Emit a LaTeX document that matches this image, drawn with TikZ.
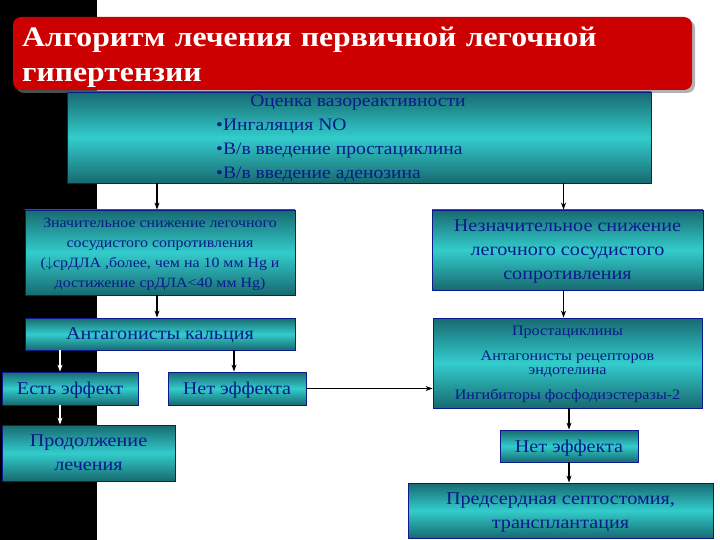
\documentclass[tikz,border=0pt]{standalone}
\usepackage{fontspec}
\setmainfont[FakeStretch=1.12]{Liberation Serif}
\usepackage{tikz}
\usetikzlibrary{arrows.meta,positioning,shadows}
\definecolor{Navy}{HTML}{0A1A8C}
\definecolor{TealDark}{HTML}{176A70}
\definecolor{TealLight}{HTML}{33CCCC}
\definecolor{Banner}{HTML}{CC0000}

\begin{document}
\begin{tikzpicture}[x=1pt,y=-1pt,
    box/.style={draw=Navy,line width=0.8pt,top color=TealDark,bottom color=TealDark,middle color=TealLight,
      text=Navy,align=center,inner sep=0pt,text depth=-4pt,font=\fontsize{18}{24}\selectfont},
    small/.style={font=\fontsize{14.2}{20}\selectfont},
    arr/.style={-{Stealth[length=7pt,width=5pt]},line width=1.6pt},
    warr/.style={arr,white}]
  \useasboundingbox (0,0) rectangle (720,540);
  \fill[white] (0,0) rectangle (720,540);
  \fill[black] (0,0) rectangle (97,540);
  % title
  \node[fill=Banner,rounded corners=8pt,drop shadow={opacity=0.6,shadow xshift=3pt,shadow yshift=-3pt},
    minimum width=679,minimum height=73,inner sep=0pt] (title) at (352.5,53.5) {};
  \node[text width=660,align=left,inner sep=0pt,text=white,anchor=north west,
    font=\fontsize{28.3}{35}\bfseries\selectfont] (titletext) at (22,27)
    {Алгоритм лечения первичной легочной\\гипертензии};
  % vasoreactivity test
  \node[box,minimum width=584,minimum height=91] (eval) at (359,137.5) {};
  \node[text=Navy,font=\fontsize{17.5}{24}\selectfont,inner sep=0pt] (evalhead) at (358,102.5) {Оценка вазореактивности};
  \node[text=Navy,font=\fontsize{17.5}{24}\selectfont,inner sep=0pt,align=left,anchor=west] (evallist) at (216,150)
    {•Ингаляция NO\\•В/в введение простациклина\\•В/в введение аденозина};
  % left branch
  \node[box,small,minimum width=270,minimum height=85] (sig) at (160,252.5)
    {Значительное снижение легочного\\сосудистого сопротивления\\($\downarrow$срДЛА ,более, чем на 10 мм Hg и\\достижение срДЛА<40 мм Hg)};
  \node[box,minimum width=270,minimum height=32] (calc) at (160,334) {Антагонисты кальция};
  \node[box,minimum width=136,minimum height=33] (yes) at (70,388.5) {Есть эффект};
  \node[box,minimum width=138,minimum height=33] (noeff) at (237,388.5) {Нет эффекта};
  \node[box,minimum width=173,minimum height=56] (cont) at (88.5,453) {Продолжение\\лечения};
  % right branch
  \node[box,minimum width=271,minimum height=80] (insig) at (567.5,250)
    {Незначительное снижение\\легочного сосудистого\\сопротивления};
  \node[box,minimum width=269,minimum height=90,text depth=1pt,font=\fontsize{14.4}{14}\selectfont] (drugs) at (567.5,363)
    {Простациклины\\[11pt]Антагонисты рецепторов\\эндотелина\\[11pt]Ингибиторы фосфодиэстеразы-2};
  \node[box,minimum width=138,minimum height=32] (noeff2) at (569,446) {Нет эффекта};
  \node[box,minimum width=305,minimum height=55] (surg) at (560.5,510.5) {Предсердная септостомия,\\трансплантация};
  % arrows
  \draw[arr] ([xshift=-3]sig.north |- eval.south) -- ([xshift=-3]sig.north);
  \draw[arr] ([xshift=-4]insig.north |- eval.south) -- ([xshift=-4]insig.north);
  \draw[arr] ([xshift=-3]sig.south) -- ([xshift=-3]calc.north);
  \draw[arr] ([xshift=-4]insig.south) -- ([xshift=-4]drugs.north);
  \draw[warr] ([xshift=-10]yes.north |- calc.south) -- ([xshift=-10]yes.north);
  \draw[arr] ([xshift=-3]noeff.north |- calc.south) -- ([xshift=-3]noeff.north);
  \draw[warr] ([xshift=-10]yes.south) -- ([xshift=-10]yes.south |- cont.north);
  \draw[arr] (noeff.east) -- (noeff.east -| drugs.west);
  \draw[arr] (noeff2.north |- drugs.south) -- (noeff2.north);
  \draw[arr] (noeff2.south) -- (noeff2.south |- surg.north);
\end{tikzpicture}
\end{document}
